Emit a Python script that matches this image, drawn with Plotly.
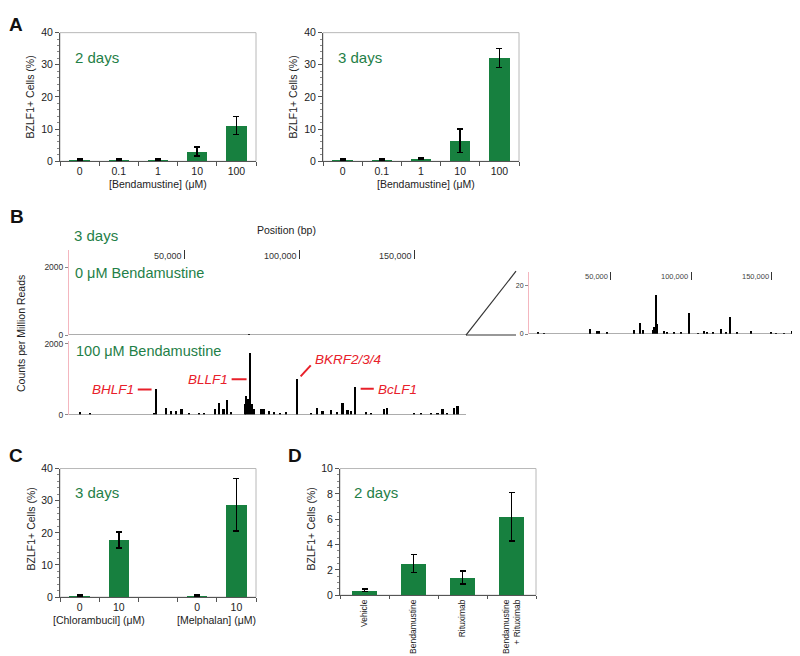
import plotly.graph_objects as go

W, H = 800, 656

# ---------------- data ----------------
conc_labels = ["0", "0.1", "1", "10", "100"]
a_day2_vals = [0.5, 0.6, 0.6, 3.0, 11.1]
a_day2_err = [0.2, 0.2, 0.2, 1.4, 2.8]
a_day3_vals = [0.5, 0.6, 0.8, 6.4, 32.1]
a_day3_err = [0.2, 0.3, 0.3, 3.7, 3.0]

c_labels = ["0", "10", "\u200c", "0\u200b", "10\u200b"]
c_vals = [0.5, 17.8, None, 0.5, 28.7]
c_err = [0.2, 2.5, None, 0.2, 8.2]
c_groups = ["[Chlorambucil] (\u03bcM)", "[Melphalan] (\u03bcM)"]

d_labels = ["Vehicle", "Bendamustine", "Rituximab", "Bendamustine<br>+ Rituximab"]
d_vals = [0.4, 2.5, 1.4, 6.2]
d_err = [0.1, 0.7, 0.5, 1.9]

# EBV genome read coverage (counts per million reads), position in bp
cov100_pos = [4600, 9000, 36800, 37800, 41900, 44000, 46200, 48700, 52000, 56400, 58500,
              63200, 65200, 67000, 68400, 70100, 76200, 76900, 77700, 78500, 79400, 80300,
              83500, 84600, 86800, 89000, 91600, 94100, 99100, 104900, 107800, 110000,
              113900, 116500, 118700, 120900, 122300, 124200, 128800, 131000, 136800,
              138000, 149900, 152700, 157100, 160000, 162200, 164300, 167300, 168700]
cov100_val = [80, 30, 40, 720, 175, 100, 100, 150, 60, 60, 40,
              150, 330, 150, 420, 80, 300, 520, 450, 1750, 300, 150,
              170, 170, 100, 80, 60, 80, 1000, 60, 200, 100,
              130, 80, 320, 120, 100, 780, 80, 50, 150,
              200, 60, 50, 60, 60, 150, 60, 180, 230]

cov0_pos = [5000, 9100, 37600, 42100, 43200, 48000, 64800, 68500, 70000, 76500, 77200,
            78200, 79200, 83400, 85400, 89600, 93700, 98900, 104000, 107700, 110000,
            113300, 118400, 121500, 123800, 128300, 137000, 149400, 152500, 157700,
            162200, 168000]
cov0_val = [0.5, 0.2, 2.0, 1.2, 1.0, 0.4, 1.5, 4.5, 1.5, 1.5, 3.0,
            16.0, 4.0, 1.2, 0.8, 0.5, 0.5, 8.8, 0.3, 1.2, 0.6,
            0.6, 2.0, 0.8, 7.0, 0.5, 1.0, 0.4, 0.3, 0.3,
            1.0, 1.5]

genome_ticks = [50000, 100000, 150000]
gene_names = ["BHLF1", "BLLF1", "BKRF2/3/4", "BcLF1"]

# ---------------- style ----------------
FONT = "Liberation Sans, Arial, Helvetica, sans-serif"
BAR = "#17803f"
GTXT = "#1f8048"
RED = "#e8202a"
AXC = "#555555"
FRAME = "#b8b8b8"
PINK = "#f4b6bf"


def px(x):
    return x / W


def py(y):
    return 1 - y / H


fig = go.Figure()

err_style = dict(type="data", color="black", thickness=1.6, width=3)

fig.add_trace(go.Bar(x=conc_labels, y=a_day2_vals, width=0.52, marker=dict(color=BAR, line=dict(width=0)),
                     error_y=dict(array=a_day2_err, **err_style), xaxis="x", yaxis="y"))
fig.add_trace(go.Bar(x=conc_labels, y=a_day3_vals, width=0.52, marker=dict(color=BAR, line=dict(width=0)),
                     error_y=dict(array=a_day3_err, **err_style), xaxis="x2", yaxis="y2"))
fig.add_trace(go.Bar(x=cov0_pos, y=cov0_val, width=700, marker=dict(color="black", line=dict(width=0)),
                     xaxis="x3", yaxis="y3"))
fig.add_trace(go.Bar(x=cov100_pos, y=cov100_val, width=700, marker=dict(color="black", line=dict(width=0)),
                     xaxis="x4", yaxis="y4"))
fig.add_trace(go.Bar(x=cov0_pos, y=cov0_val, width=700, marker=dict(color="black", line=dict(width=0)),
                     xaxis="x5", yaxis="y5"))
fig.add_trace(go.Bar(x=c_labels, y=c_vals, width=0.52, marker=dict(color=BAR, line=dict(width=0)),
                     error_y=dict(array=c_err, **err_style), xaxis="x6", yaxis="y6"))
fig.add_trace(go.Bar(x=d_labels, y=d_vals, width=0.52, marker=dict(color=BAR, line=dict(width=0)),
                     error_y=dict(array=d_err, **err_style), xaxis="x7", yaxis="y7"))


def cat_x(x0, x1, n, anchor, angle=None, size=10.5, tlen=4):
    d = dict(domain=[px(x0), px(x1)], type="category", tickson="boundaries", ticks="outside",
             ticklen=tlen, tickcolor=AXC, showline=True, linecolor=AXC, linewidth=1, showgrid=False,
             zeroline=False, tickfont=dict(size=size, color="#222"), range=[-0.5, n - 0.5],
             anchor=anchor, fixedrange=True)
    if angle is not None:
        d["tickangle"] = angle
    return d


def val_y(y0, y1, top, dt, mdt, anchor):
    return dict(domain=[py(y1), py(y0)], range=[0, top], tickmode="linear", tick0=0, dtick=dt,
                ticks="outside", ticklen=4, tickcolor=AXC, showline=True, linecolor=AXC, linewidth=1,
                showgrid=False, zeroline=False, tickfont=dict(size=10.5, color="#222"),
                minor=dict(dtick=mdt, tick0=0, ticks="outside", ticklen=2, tickcolor="#888"),
                anchor=anchor)


def trk_x(x0, x1, anchor, ticks, tlen):
    d = dict(domain=[px(x0), px(x1)], range=[-300, 172300], showline=False, showgrid=False,
             zeroline=False, showticklabels=False, anchor=anchor)
    if ticks:
        d.update(side="top", ticks="inside", ticklen=tlen, tickcolor="#333", tickwidth=1,
                 tickmode="array", tickvals=genome_ticks)
    else:
        d.update(ticks="")
    return d


def trk_y(y0, y1, top, tv, size, anchor):
    return dict(domain=[py(y1), py(y0)], range=[0, top], showline=True, linecolor=PINK, linewidth=1,
                showgrid=False, zeroline=False, tickmode="array", tickvals=tv, ticks="outside",
                ticklen=3, tickcolor="#888", tickfont=dict(size=size, color="#333"), anchor=anchor)


fig.update_layout(
    xaxis=cat_x(52, 248, 5, "y"),
    yaxis=val_y(19, 150, 40, 10, 2, "x"),
    xaxis2=cat_x(315, 511, 5, "y2"),
    yaxis2=val_y(19, 150, 40, 10, 2, "x2"),
    xaxis3=trk_x(61, 458, "y3", True, 9),
    yaxis3=trk_y(240, 327, 2520, [0, 2000], 8.5, "x3"),
    xaxis4=trk_x(61, 458, "y4", False, 0),
    yaxis4=trk_y(333, 408, 2080, [0, 2000], 8.5, "x4"),
    xaxis5=trk_x(521, 800, "y5", True, 8),
    yaxis5=trk_y(263, 326, 25.7, [0, 20], 7, "x5"),
    xaxis6=cat_x(52, 248, 5, "y6"),
    yaxis6=val_y(463, 594, 40, 10, 2, "x6"),
    xaxis7=cat_x(332, 528, 4, "y7", angle=-90, size=8.5, tlen=3),
    yaxis7=val_y(463, 592, 10, 2, 0.5, "x7"),
)

shapes = []
# light frames around bar panels
for xr, yr in [("x", "y"), ("x2", "y2"), ("x6", "y6"), ("x7", "y7")]:
    shapes.append(dict(type="rect", xref=xr + " domain", yref=yr + " domain", x0=0, x1=1, y0=0, y1=1,
                       line=dict(color=FRAME, width=1), layer="below"))
# baselines of coverage tracks
for xr, yr in [("x3", "y3"), ("x4", "y4"), ("x5", "y5")]:
    shapes.append(dict(type="line", xref=xr + " domain", yref=yr, x0=0, x1=1, y0=0, y1=0,
                       line=dict(color="#555", width=1)))
# zoom wedge from main track to inset
shapes.append(dict(type="line", xref="paper", yref="paper", x0=px(458), x1=px(508), y0=py(327), y1=py(327),
                   line=dict(color="#333", width=1.2)))
shapes.append(dict(type="line", xref="paper", yref="paper", x0=px(458), x1=px(508), y0=py(327), y1=py(262),
                   line=dict(color="#333", width=1.2)))
# gene label connectors (data coordinates of the 100 uM track)
connectors = [(29600, 710, 35600, 710), (70400, 1000, 76900, 1000),
              (100400, 1080, 104800, 1390), (126500, 730, 132200, 730)]
for x0, y0, x1, y1 in connectors:
    shapes.append(dict(type="line", xref="x4", yref="y4", x0=x0, y0=y0, x1=x1, y1=y1,
                       line=dict(color=RED, width=2)))

ann = []


def txt(x, y, s, size, color="#222", xa="center", ya="middle", angle=0, xref="paper", yref="paper"):
    ann.append(dict(x=x, y=y, xref=xref, yref=yref, text=s, showarrow=False, xanchor=xa, yanchor=ya,
                    textangle=angle, font=dict(size=size, color=color, family=FONT)))


# panel letters
txt(px(8), py(11), "<b>A</b>", 19, "#111")
txt(px(9), py(206), "<b>B</b>", 19, "#111")
txt(px(8), py(450), "<b>C</b>", 19, "#111")
txt(px(287), py(450), "<b>D</b>", 19, "#111")

# panel A
txt(px(65), py(44), "2 days", 15, GTXT, xa="left")
txt(px(328), py(44), "3 days", 15, GTXT, xa="left")
txt(px(150), py(173), "[Bendamustine] (\u03bcM)", 10.5)
txt(px(418), py(173), "[Bendamustine] (\u03bcM)", 10.5)
txt(px(22), py(85), "BZLF1+ Cells (%)", 10.5, angle=-90)
txt(px(285), py(85), "BZLF1+ Cells (%)", 10.5, angle=-90)

# panel B
txt(px(64), py(226), "3 days", 15, GTXT, xa="left")
txt(px(278), py(220), "Position (bp)", 10.5)
txt(px(65), py(264), "0 \u03bcM Bendamustine", 14.5, GTXT, xa="left")
txt(px(66), py(343), "100 \u03bcM Bendamustine", 14.5, GTXT, xa="left")
txt(px(13), py(326), "Counts per Million Reads", 10.5, angle=-90)
for v in genome_ticks:
    txt(v - 400, py(246), f"{v:,}", 9, "#333", xa="right", xref="x3")
    txt(v - 500, py(267), f"{v:,}", 7.5, "#444", xa="right", xref="x5")
gene_label_pos = [(28700, 700, "right"), (69600, 1000, "right"), (105800, 1560, "left"), (133000, 700, "left")]
for name, (gx, gy, anc) in zip(gene_names, gene_label_pos):
    txt(gx, gy, f"<i>{name}</i>", 13.5, RED, xa=anc, xref="x4", yref="y4")

# panel C
txt(px(65), py(487), "3 days", 15, GTXT, xa="left")
txt(px(23), py(525), "BZLF1+ Cells (%)", 10.5, angle=-90)
txt(0.5, py(617), c_groups[0], 10.5, xref="x6")
txt(3.5, py(617), c_groups[1], 10.5, xref="x6")

# panel D
txt(px(344), py(487), "2 days", 15, GTXT, xa="left")
txt(px(303), py(525), "BZLF1+ Cells (%)", 10.5, angle=-90)

fig.update_layout(
    width=W, height=H, margin=dict(l=0, r=0, t=0, b=0), showlegend=False,
    paper_bgcolor="white", plot_bgcolor="white", bargap=0,
    font=dict(family=FONT, color="#222"),
    shapes=shapes, annotations=ann,
)

fig.write_html("out.html")
